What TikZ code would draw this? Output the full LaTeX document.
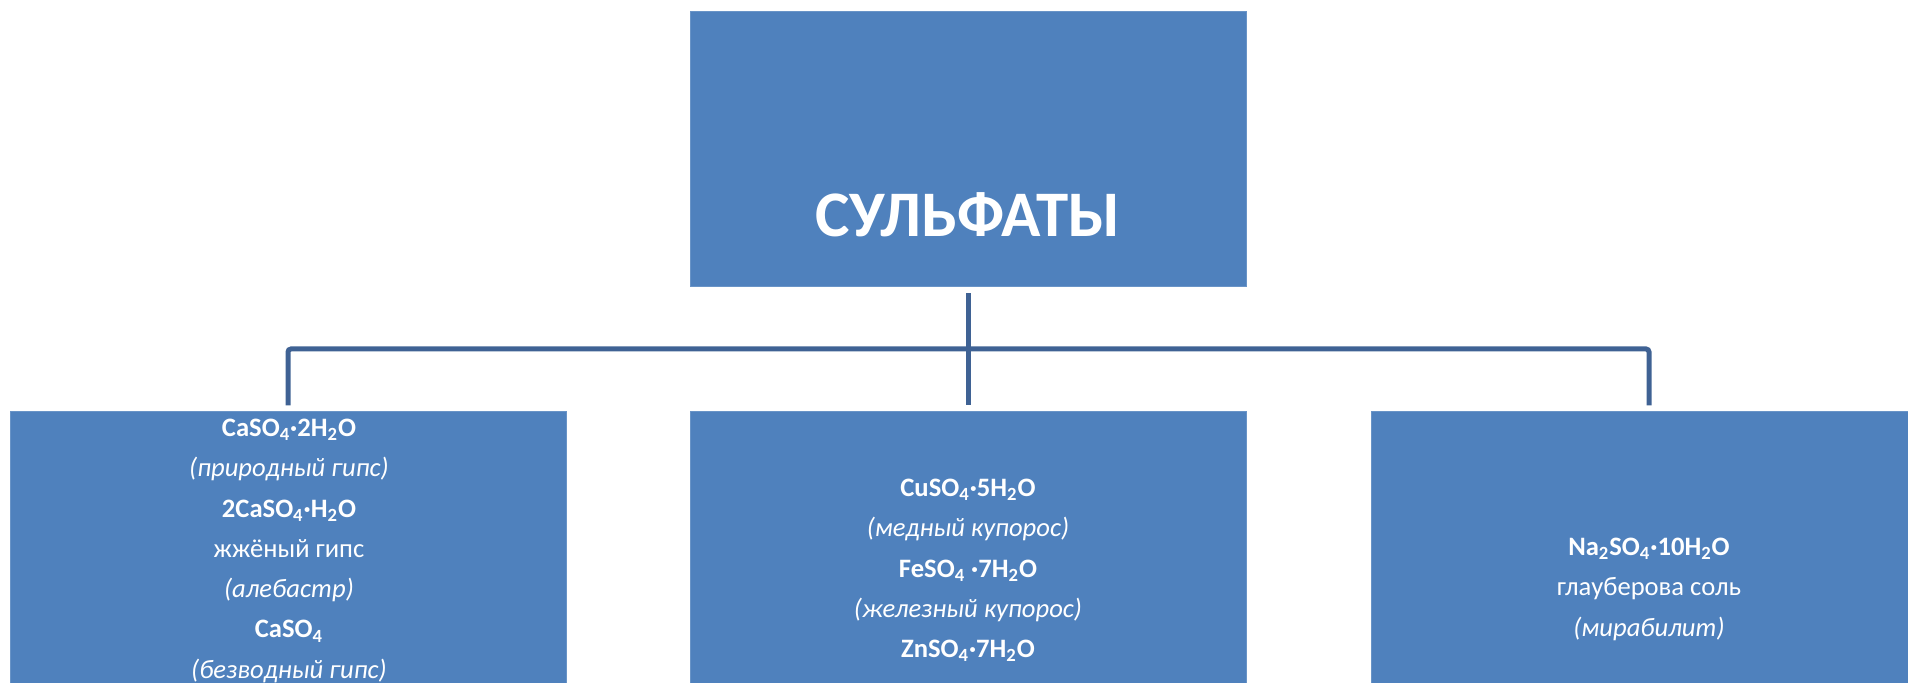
\documentclass[tikz,border=0pt]{standalone}
\usepackage{fontspec}
\setmainfont{Carlito}
\usetikzlibrary{positioning}
\definecolor{boxblue}{RGB}{79,129,189}
\definecolor{linkblue}{RGB}{63,98,148}

\begin{document}
\begin{tikzpicture}[
		box/.style={fill=boxblue, draw=boxblue!85!white, line width=0.5pt, minimum width=278pt, inner sep=0pt},
		boxtext/.style={text=white, align=center, anchor=north, inner sep=0pt, font=\fontsize{13.3}{20.15}\selectfont},
		link/.style={draw=linkblue, line width=2.5pt, rounded corners=1.5pt}
	]
	\useasboundingbox (0,0) rectangle (954pt,341.5pt);
	\clip (0,0) rectangle (954pt,341.5pt);

	% boxes
	\node[box, minimum height=137.5pt] (top) at (484pt,266.75pt) {};
	\node[box, minimum height=160pt, below=62pt of top] (mid) {};
	\node[box, minimum height=160pt, left=61.5pt of mid] (gyps) {};
	\node[box, minimum height=160pt, right=62pt of mid] (glauber) {};

	% connectors
	\coordinate (bus) at (484pt,167pt);
	\draw[link] ([yshift=-3pt]top.south) -- ([yshift=3pt]mid.north);
	\draw[link] ([yshift=3pt]gyps.north) |- (bus) -| ([yshift=3pt]glauber.north);

	% texts
	\node[text=white, anchor=base, font=\fontsize{32.5}{39}\selectfont\bfseries] (title) at (484pt,223pt) {СУЛЬФАТЫ};
	\node[boxtext] (gypstext) at (144.5pt,132.2pt) {\textbf{CaSO\textsubscript{4}·2H\textsubscript{2}O}\\
		\textit{(природный гипс)}\\
		\textbf{2CaSO\textsubscript{4}·H\textsubscript{2}O}\\
		жжёный гипс\\
		\textit{(алебастр)}\\
		\textbf{CaSO\textsubscript{4}}\\
		\textit{(безводный гипс)}};
	\node[boxtext] (vitrioltext) at (484pt,102.2pt) {\textbf{CuSO\textsubscript{4}·5H\textsubscript{2}O}\\
		\textit{(медный купорос)}\\
		\textbf{FeSO\textsubscript{4} ·7H\textsubscript{2}O}\\
		\textit{(железный купорос)}\\
		\textbf{ZnSO\textsubscript{4}·7H\textsubscript{2}O}};
	\node[boxtext] (glaubertext) at (824.5pt,72.7pt) {\textbf{Na\textsubscript{2}SO\textsubscript{4}·10H\textsubscript{2}O}\\
		глауберова соль\\
		\textit{(мирабилит)}};
\end{tikzpicture}
\end{document}
